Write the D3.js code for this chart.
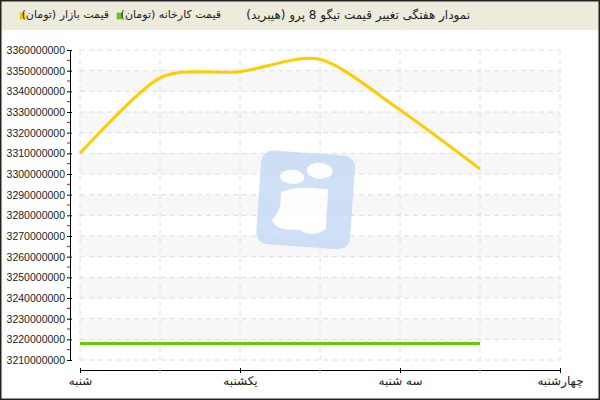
<!DOCTYPE html>
<html>
<head>
<meta charset="utf-8">
<script src="https://cdn.jsdelivr.net/npm/d3@7"></script>
<style>
  body { margin: 0; background: #fff; }
  #chart { position: relative; width: 600px; height: 400px; }
  svg { display: block; }
  .ylab { font-family: "Liberation Sans", Arial, sans-serif; font-size: 10.5px; fill: #222; }
  .fa { font-family: "DejaVu Sans", sans-serif; font-size: 12px; fill: #222; }
  .head { position: absolute; direction: rtl; white-space: nowrap; line-height: 20px;
          font-family: "DejaVu Sans", sans-serif; color: #222; }
</style>
</head>
<body>
<div id="chart"></div>
<script>
/* ---------------------- Data ---------------------- */
var title = "نمودار هفتگی تغییر قیمت تیگو 8 پرو (هیبرید)";
var dayLabels = ["شنبه", "یکشنبه", "سه شنبه", "چهارشنبه"];
var seriesNames = ["قیمت بازار (تومان)", "قیمت کارخانه (تومان)"];
var marketPrice = [3310000000, 3346500000, 3349500000, 3355500000, 3331000000, 3302500000];
var factoryPrice = [3218000000, 3218000000, 3218000000, 3218000000, 3218000000, 3218000000];
var yTicks = d3.range(3210000000, 3360000001, 10000000);

var colors = {market: "#ffcc00", factory: "#66cc00", header: "#ecebdc", band: "#f7f7f7", grid: "#dedede"};

/* ---------------------- Layout ---------------------- */
var W = 600, H = 400;
var margin = {top: 50, right: 40, bottom: 40, left: 80};
var pw = W - margin.left - margin.right, ph = H - margin.top - margin.bottom;

var chart = d3.select("#chart");
var svg = chart.append("svg").attr("width", W).attr("height", H);

// header band
svg.append("rect").attr("x", 0).attr("y", 0).attr("width", W).attr("height", 30).attr("fill", colors.header);

// x: index positions, two points per day label
var xScale = d3.scaleLinear().domain([0, 6]).range([0, pw]);
var yScale = d3.scaleLinear().domain([3210000000, 3360000000]).range([ph, 0]);

var g = svg.append("g").attr("transform", `translate(${margin.left}, ${margin.top})`);

// alternating bands
var bands = yTicks.slice(0, -1).filter((d, i) => i % 2 === 1);
g.selectAll(".band").data(bands).enter().append("rect")
  .attr("x", 0).attr("width", pw)
  .attr("y", d => yScale(d + 10000000)).attr("height", d => yScale(d) - yScale(d + 10000000))
  .attr("fill", colors.band);

// grid
g.selectAll(".hgrid").data(yTicks).enter().append("line")
  .attr("x1", 0).attr("x2", pw).attr("y1", d => yScale(d)).attr("y2", d => yScale(d))
  .attr("stroke", colors.grid).attr("stroke-dasharray", "5,4");
g.selectAll(".vgrid").data(d3.range(0, 7)).enter().append("line")
  .attr("x1", d => xScale(d)).attr("x2", d => xScale(d)).attr("y1", 0).attr("y2", ph)
  .attr("stroke", colors.grid).attr("stroke-dasharray", "5,4");

// watermark
var wm = g.append("g").attr("transform", `translate(${xScale(2.82)}, ${yScale(3287500000)}) rotate(4)`).attr("opacity", 0.8);
wm.append("rect").attr("x", -47).attr("y", -47).attr("width", 94).attr("height", 94).attr("rx", 12).attr("fill", "#c5d9f5");
wm.append("ellipse").attr("cx", -15).attr("cy", -22).attr("rx", 12).attr("ry", 7).attr("fill", "#fff");
wm.append("ellipse").attr("cx", 12).attr("cy", -30).attr("rx", 13).attr("ry", 8).attr("fill", "#fff");
wm.append("path").attr("d", "M-25,-6 Q-10,-14 22,-12 L22,28 Q10,38 -5,30 Q-28,34 -32,22 Q-25,14 -25,6 Z").attr("fill", "#fff");

// lines
var line = d3.line().x((d, i) => xScale(i)).y(d => yScale(d)).curve(d3.curveCardinal.tension(0.2));
g.append("path").datum(factoryPrice).attr("d", line).attr("fill", "none")
  .attr("stroke", colors.factory).attr("stroke-width", 3);
g.append("path").datum(marketPrice).attr("d", line).attr("fill", "none")
  .attr("stroke", colors.market).attr("stroke-width", 3).attr("stroke-linejoin", "round");

// y axis
var yAxis = g.append("g").attr("transform", "translate(-10, 0)")
  .call(d3.axisLeft(yScale).tickValues(yTicks).tickFormat(d3.format("d")).tickSize(3).tickSizeOuter(0));
yAxis.select(".domain").attr("stroke", "#000");
yAxis.selectAll(".tick line").attr("stroke", "#000").attr("x2", 2).attr("x1", -3);
yAxis.selectAll(".tick text").attr("class", "ylab").attr("x", -5);
// red minor ticks
yAxis.selectAll(".minor").data(yTicks.slice(0, -1).map(d => d + 5000000)).enter().append("line")
  .attr("x1", -3).attr("x2", 0).attr("y1", d => yScale(d)).attr("y2", d => yScale(d))
  .attr("stroke", "#e00000");

// x axis
var xAxis = g.append("g").attr("transform", `translate(0, ${ph + 10})`)
  .call(d3.axisBottom(xScale).tickValues([0, 2, 4, 6]).tickFormat((d, i) => dayLabels[i]).tickSize(3).tickSizeOuter(0));
xAxis.select(".domain").attr("stroke", "#000");
xAxis.selectAll(".tick line").attr("stroke", "#000").attr("y1", -2);
xAxis.selectAll(".tick text").attr("class", "fa").attr("y", 6);
xAxis.selectAll(".minor").data([1, 3, 5]).enter().append("line")
  .attr("x1", d => xScale(d)).attr("x2", d => xScale(d)).attr("y1", 0).attr("y2", 3)
  .attr("stroke", "#bbb");

// legend squares
var legend = [
  {name: seriesNames[0], color: colors.market, x: 20, right: 109},
  {name: seriesNames[1], color: colors.factory, x: 117, right: 221}
];
svg.selectAll(".lsq").data(legend).enter().append("rect")
  .attr("x", d => d.x).attr("y", 13).attr("width", 5).attr("height", 6)
  .attr("fill", d => d.color).attr("stroke", d => d3.color(d.color).darker(0.4)).attr("stroke-width", 0.5);

// frame
svg.append("rect").attr("x", 0.5).attr("y", 0.5).attr("width", W - 1).attr("height", H - 1)
  .attr("fill", "none").attr("stroke", "#222").attr("stroke-width", 2);

// header texts as html so the rtl layout is handled by the browser
chart.append("div").attr("class", "head")
  .style("right", (W - 470) + "px").style("top", "5px").style("font-size", "12px").text(title);
chart.selectAll(".ltext").data(legend).enter().append("div").attr("class", "head")
  .style("right", d => (W - d.right) + "px").style("top", "5px").style("font-size", "11px")
  .text(d => d.name);
</script>
</body>
</html>
